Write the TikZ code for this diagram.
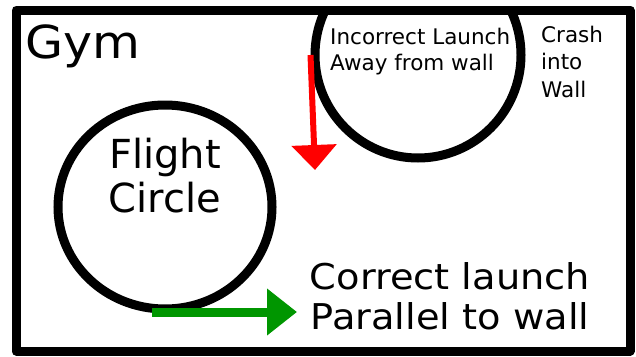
\documentclass[tikz,border=0pt]{standalone}
\usepackage{fontspec}
\setmainfont{DejaVu Sans}
\newfontfamily\widesans[FakeStretch=1.08]{DejaVu Sans}
\usepackage{xcolor}
\usepackage{tikz}
\usetikzlibrary{arrows.meta, positioning, shapes.geometric}
\definecolor{launchgreen}{RGB}{0,150,0}
\definecolor{launchred}{RGB}{255,0,0}

\begin{document}
\begin{tikzpicture}[x=1pt, y=-1pt,
    wall/.style={line width=9pt, line join=round},
    ring/.style={draw, line width=9pt, inner sep=0pt},
    label/.style={inner sep=0pt, text=black},
    badlaunch/.style={draw=launchred, line width=6pt, -{Triangle[length=25pt, width=44pt]}},
    goodlaunch/.style={draw=launchgreen, line width=9pt, -{Triangle[length=30pt, width=45pt]}}]
\useasboundingbox (0,0) rectangle (636,356);

% wrong launch circle, cut off by the wall
\begin{scope}
\clip (16,10) rectangle (630,351);
\node[ring, circle, minimum size=206pt] (wrongring) at (418,55) {};
\end{scope}
\draw[wall] (16,10) rectangle (630,351);
\node[label, anchor=base west, font=\widesans\fontsize{45.5}{52}\selectfont] (gym) at (25,58) {Gym};

\node[ring, ellipse, minimum width=214pt, minimum height=204pt] (flight) at (165,207) {};
\node[label, align=center, font=\fontsize{40}{44}\selectfont] (flighttext) at (165,176) {Flight\\Circle};

\coordinate (awaytip) at (315,170);
\draw[badlaunch] (wrongring.west) -- (awaytip);
\coordinate (takeoff) at (152,312);
\coordinate (parallel) at (297,312);
\draw[goodlaunch] (takeoff) -- (parallel);

\node[label, anchor=west, align=left, font=\fontsize{21.5}{26}\selectfont] (incorrect) at (330,52) {Incorrect Launch\\Away from wall};
\node[label, anchor=west, align=left, font=\fontsize{21.5}{27.5}\selectfont] (crash) at (541,61.5) {Crash\\into\\Wall};
\node[label, align=center, font=\widesans\fontsize{35.5}{40}\selectfont] (correct) at (450,296.5) {Correct launch\\Parallel to wall};
\end{tikzpicture}
\end{document}
